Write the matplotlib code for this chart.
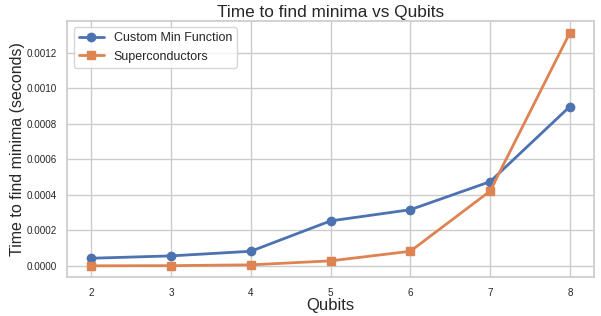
import matplotlib
matplotlib.use('Agg')
import matplotlib.pyplot as plt
import seaborn as sns

qubits = [2, 3, 4, 5, 6, 7, 8]
custom_min = [0.0000427, 0.000056, 0.000082, 0.000253, 0.000316, 0.000474, 0.000897]
supercond = [0.0000002, 0.000001, 0.0000056, 0.000028, 0.000082, 0.000421, 0.001312]

sns.set_theme(style='whitegrid')
plt.rcParams['font.family'] = ['Liberation Sans', 'DejaVu Sans']

fig, ax = plt.subplots(figsize=(6.01, 3.16), dpi=100)
ax.plot(qubits, custom_min, 'o-', lw=2, ms=6, label='Custom Min Function')
ax.plot(qubits, supercond, 's-', lw=2, ms=6, label='Superconductors')

ax.set_title('Time to find minima vs Qubits', fontsize=12.4, pad=3)
ax.set_xlabel('Qubits', fontsize=12, labelpad=0)
ax.set_ylabel('Time to find minima (seconds)', fontsize=11.5, labelpad=1)
ax.tick_params(axis='both', labelsize=7.1, pad=1.5)
ax.legend(fontsize=9, loc='upper left')

fig.subplots_adjust(left=0.112, right=0.988, top=0.933, bottom=0.122)
fig.savefig('out.png', dpi=100)
